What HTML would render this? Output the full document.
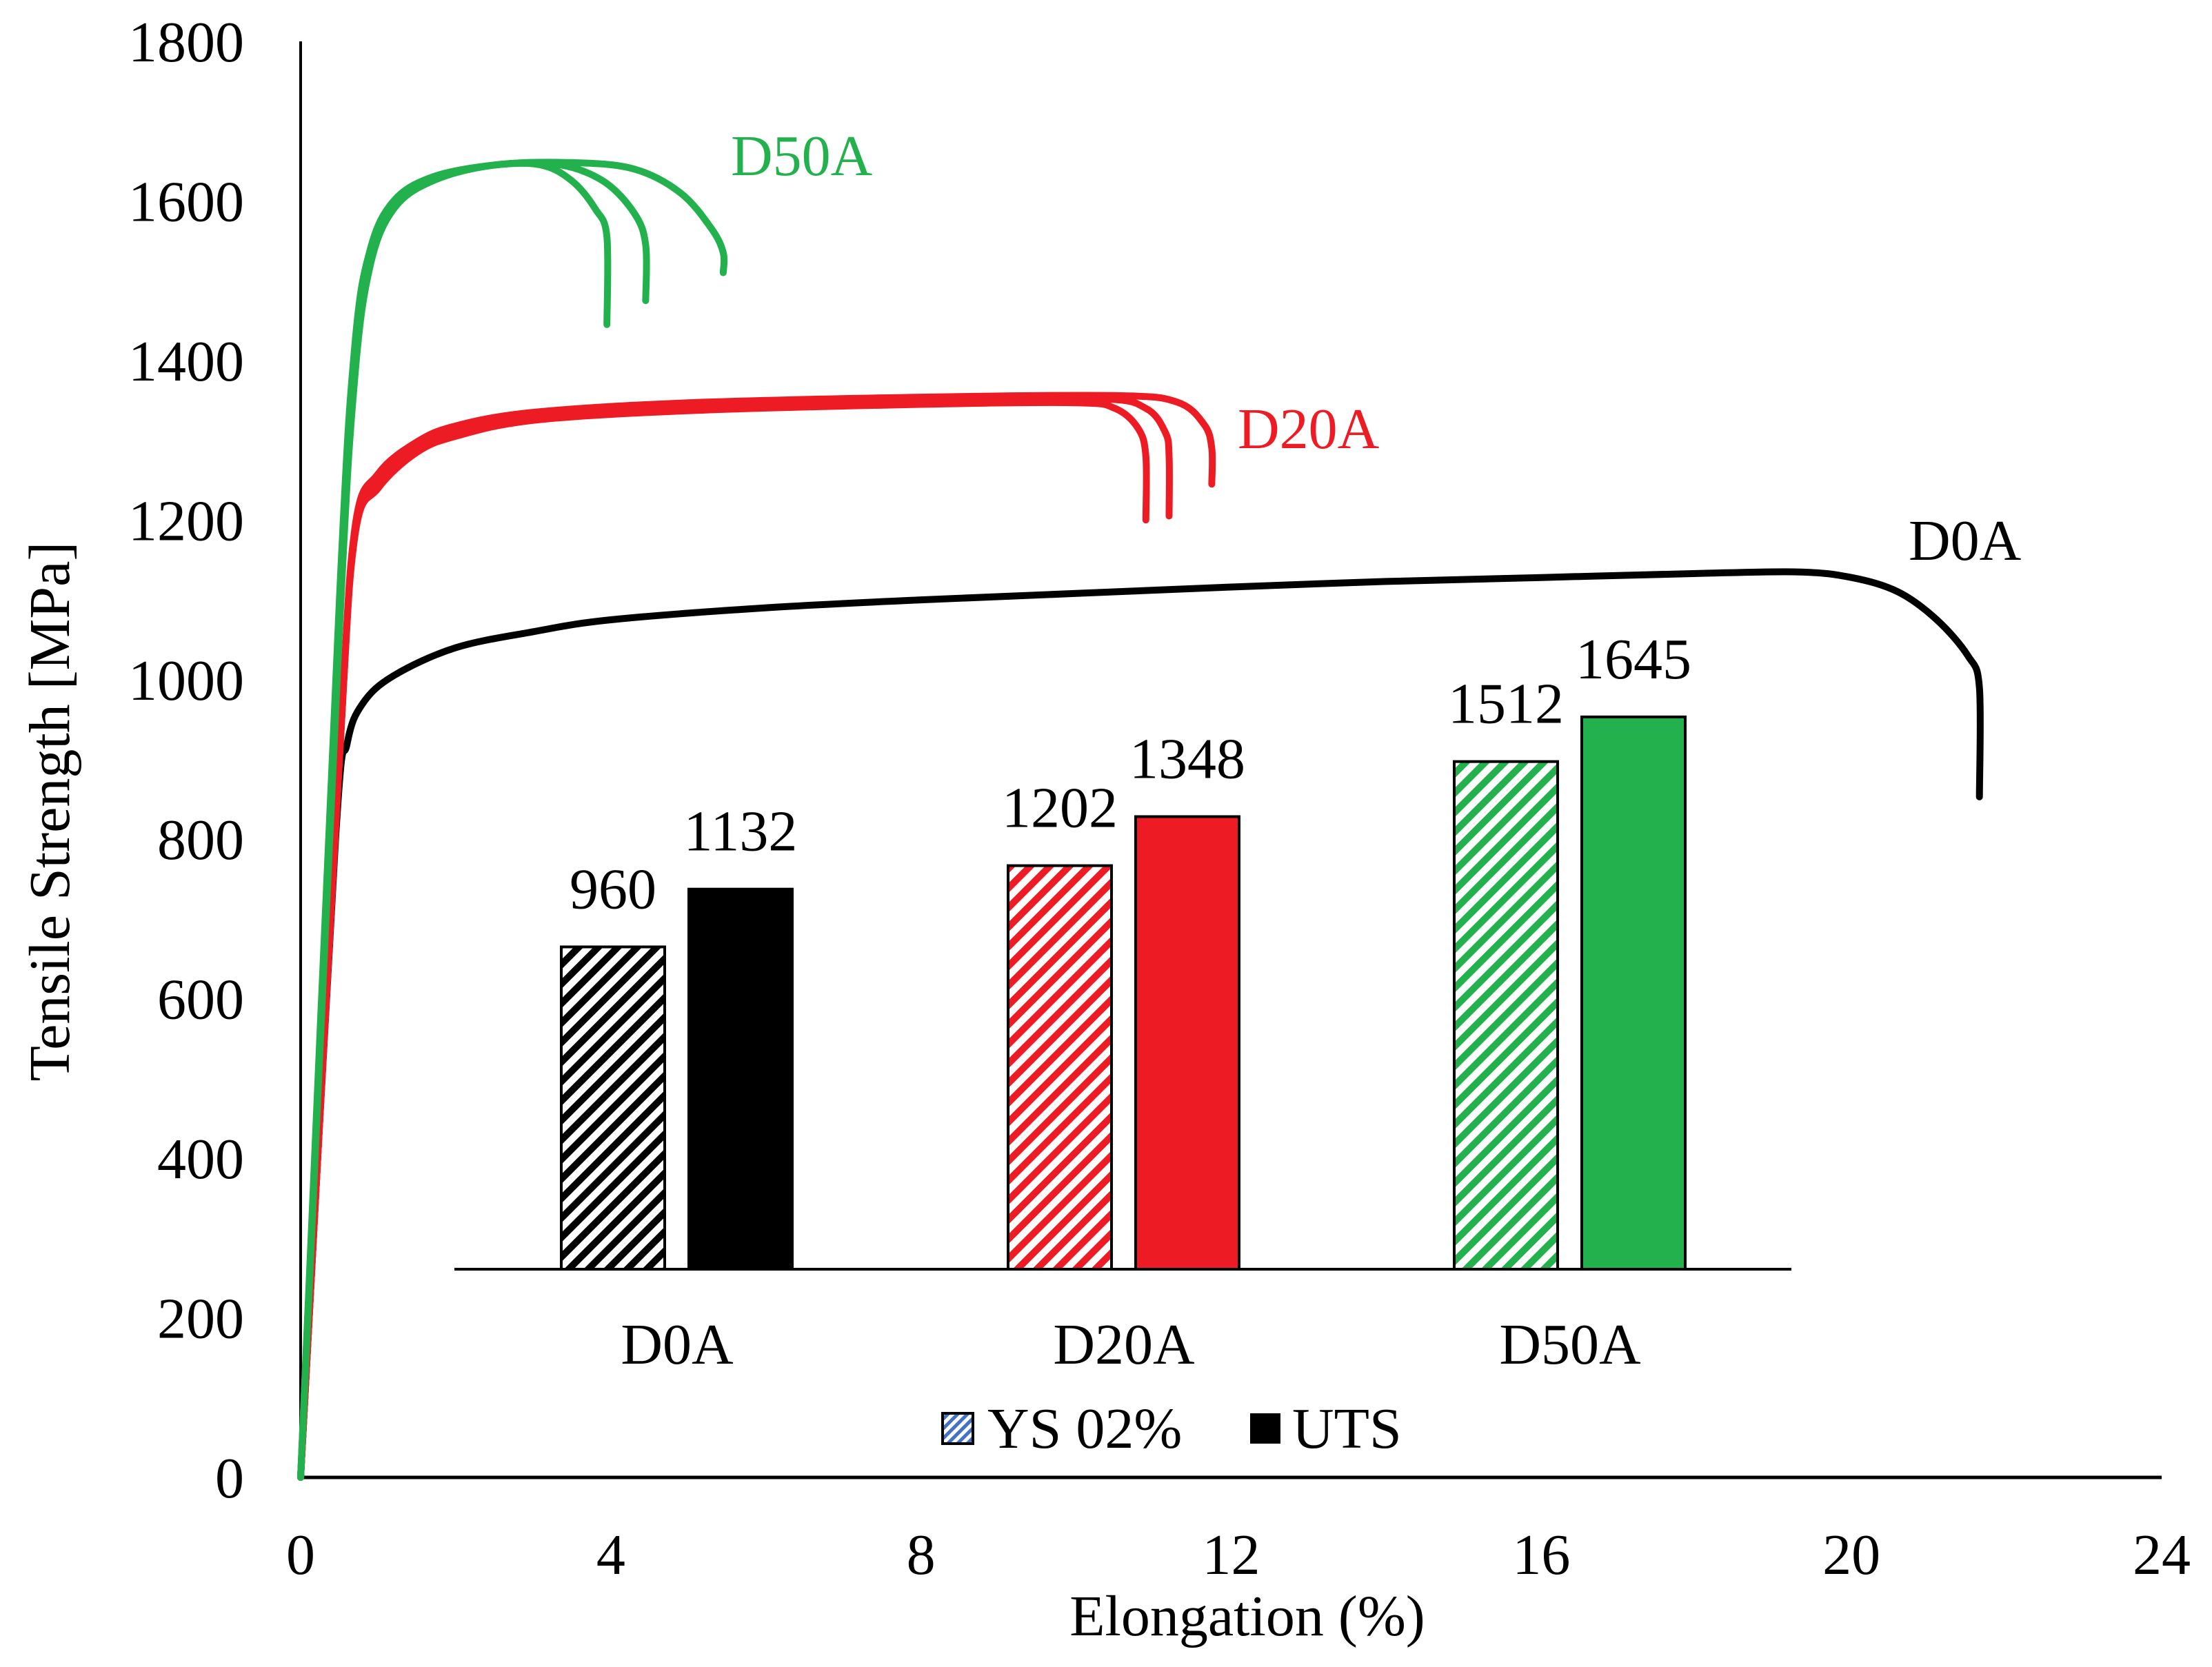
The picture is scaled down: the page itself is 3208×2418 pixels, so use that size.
<!DOCTYPE html>
<html><head><meta charset="utf-8"><style>
html,body{margin:0;padding:0;background:#fff;}
svg{display:block;}
text{font-family:"Liberation Serif",serif;}
</style></head><body>
<svg id="chart" width="3208" height="2418" viewBox="0 0 3208 2418" xmlns="http://www.w3.org/2000/svg">
<defs>
<pattern id="hatchK" patternUnits="userSpaceOnUse" width="20" height="20" patternTransform="rotate(45)"><rect width="20" height="20" fill="#fff"/><rect width="10" height="20" fill="#000"/></pattern>
<pattern id="hatchR" patternUnits="userSpaceOnUse" width="20" height="20" patternTransform="rotate(45)"><rect width="20" height="20" fill="#fff"/><rect width="10" height="20" fill="#ed1c24"/></pattern>
<pattern id="hatchG" patternUnits="userSpaceOnUse" width="20" height="20" patternTransform="rotate(45)"><rect width="20" height="20" fill="#fff"/><rect width="10" height="20" fill="#22b14c"/></pattern>
<pattern id="hatchB" patternUnits="userSpaceOnUse" width="10" height="10" patternTransform="rotate(45)"><rect width="10" height="10" fill="#fff"/><rect width="5" height="10" fill="#4472c4"/></pattern>
</defs>
<g id="plot"></g>
</svg>
<script>
const xTicks = [0,4,8,12,16,20,24];
const yTicks = [0,200,400,600,800,1000,1200,1400,1600,1800];
const d0aCurve = [[0,0],[0.45,800],[0.6,920],[0.8,970],[1.2,1005],[2,1040],[3,1060],[4,1075],[6,1090],[8,1100],[10,1108],[12,1116],[14,1123],[16,1128],[18,1133],[19.3,1135],[20.0,1128],[20.6,1110],[21.1,1075],[21.5,1030],[21.65,990],[21.65,853]];
const d20aCurve1 = [[0,0],[0.5,900],[0.7,1180],[1,1240],[1.5,1285],[2,1305],[3,1325],[5,1337],[8,1345],[10,1347],[10.5,1340],[10.8,1315],[10.9,1280],[10.9,1200]];
const d20aCurve2 = [[0,0],[0.5,900],[0.7,1185],[1,1250],[1.5,1292],[2,1312],[3,1330],[5,1342],[8,1350],[10.3,1352],[10.9,1340],[11.15,1310],[11.2,1280],[11.2,1205]];
const d20aCurve3 = [[0,0],[0.5,900],[0.7,1190],[1,1258],[1.5,1298],[2,1318],[3,1335],[5,1347],[8,1354],[10.5,1356],[11.3,1348],[11.65,1320],[11.75,1290],[11.75,1245]];
const d50aCurve1 = [[0,0],[0.5,1100],[0.7,1420],[0.9,1540],[1.2,1600],[1.7,1630],[2.5,1645],[3.1,1645],[3.5,1625],[3.8,1590],[3.95,1555],[3.95,1445]];
const d50aCurve2 = [[0,0],[0.5,1080],[0.7,1400],[0.9,1530],[1.2,1595],[1.7,1628],[2.5,1645],[3.3,1646],[3.9,1625],[4.3,1585],[4.45,1545],[4.45,1475]];
const d50aCurve3 = [[0,0],[0.5,1060],[0.7,1380],[0.9,1520],[1.2,1590],[1.7,1625],[2.5,1645],[3.5,1648],[4.3,1640],[4.9,1610],[5.3,1565],[5.45,1535],[5.45,1510]];
const barCategories = ["D0A","D20A","D50A"];
const ysValues = [960,1202,1512];
const utsValues = [1132,1348,1645];

const NS="http://www.w3.org/2000/svg";
const g=document.getElementById('plot');
const X0=436,XS=(3135-436)/24,Y0=2143,YS=(2143-60)/1800;
const sx=v=>X0+v*XS, sy=v=>Y0-v*YS;
const BY0=1841,BK=0.487;
const by=v=>BY0-v*BK;
const groupCenters=[982,1630,2277];
function el(t,a,txt){const e=document.createElementNS(NS,t);for(const k in a)e.setAttribute(k,a[k]);if(txt!==undefined)e.textContent=txt;g.appendChild(e);return e;}

let e=el('line',{x1:X0,y1:60,x2:X0,y2:Y0,stroke:'#000','stroke-width':4});


e=el('line',{x1:X0,y1:Y0,x2:3135,y2:Y0,stroke:'#000','stroke-width':5});


yTicks.forEach(v=>{const t=el('text',{x:354,y:sy(v)+29,'text-anchor':'end','font-size':84},String(v));

});
xTicks.forEach(v=>{const t=el('text',{x:sx(v),y:2283,'text-anchor':'middle','font-size':84},String(v));

});
e=el('text',{x:1809,y:2372,'text-anchor':'middle','font-size':84},'Elongation (%)');


e=el('text',{x:0,y:0,'text-anchor':'middle','font-size':84,transform:'translate(100,1177) rotate(-90)'},'Tensile Strength [MPa]');



function path(pts){
 const P=pts.map(p=>[sx(p[0]),sy(p[1])]);
 let d='M'+P[0][0].toFixed(1)+' '+P[0][1].toFixed(1);
 for(let i=0;i<P.length-1;i++){
  const p0=P[Math.max(0,i-1)],p1=P[i],p2=P[i+1],p3=P[Math.min(P.length-1,i+2)];
  const c1=[p1[0]+(p2[0]-p0[0])/6,p1[1]+(p2[1]-p0[1])/6];
  const c2=[p2[0]-(p3[0]-p1[0])/6,p2[1]-(p3[1]-p1[1])/6];
  d+=' C'+c1[0].toFixed(1)+' '+c1[1].toFixed(1)+' '+c2[0].toFixed(1)+' '+c2[1].toFixed(1)+' '+p2[0].toFixed(1)+' '+p2[1].toFixed(1);
 }
 return d;
}
const curves=[[d0aCurve,'#000','d0a-curve'],[d20aCurve1,'#ed1c24','d20a-curve-1'],[d20aCurve2,'#ed1c24','d20a-curve-2'],[d20aCurve3,'#ed1c24','d20a-curve-3'],[d50aCurve1,'#22b14c','d50a-curve-1'],[d50aCurve2,'#22b14c','d50a-curve-2'],[d50aCurve3,'#22b14c','d50a-curve-3']];
curves.forEach(c=>{const p=el('path',{d:path(c[0]),fill:'none',stroke:c[1],'stroke-width':10,'stroke-linejoin':'round','stroke-linecap':'round'});

});
e=el('text',{x:1060,y:254,'font-size':84,fill:'#22b14c'},'D50A');


e=el('text',{x:1795,y:650,'font-size':84,fill:'#ed1c24'},'D20A');


e=el('text',{x:2768,y:812,'font-size':84,fill:'#000'},'D0A');



const colors=['#000','#ed1c24','#22b14c'],hatch=['url(#hatchK)','url(#hatchR)','url(#hatchG)'];
const BW=150;
barCategories.forEach((c,i)=>{
 const cx=groupCenters[i];
 const yx=cx-168, ux=cx+17;
 let r=el('rect',{x:yx,y:by(ysValues[i]),width:BW,height:ysValues[i]*BK,fill:hatch[i],stroke:'#000','stroke-width':4});
 
 
 r=el('rect',{x:ux,y:by(utsValues[i]),width:BW,height:utsValues[i]*BK,fill:colors[i],stroke:'#000','stroke-width':4});
 
 
 let t=el('text',{x:yx+BW/2,y:by(ysValues[i])-56,'text-anchor':'middle','font-size':84},String(ysValues[i]));
 
 
 t=el('text',{x:ux+BW/2,y:by(utsValues[i])-56,'text-anchor':'middle','font-size':84},String(utsValues[i]));
 
 
 t=el('text',{x:cx,y:1978,'text-anchor':'middle','font-size':84},c);
 
 
});
e=el('line',{x1:659,y1:BY0,x2:2598,y2:BY0,stroke:'#000','stroke-width':4});


e=el('rect',{x:1367,y:2050,width:44,height:44,fill:'url(#hatchB)',stroke:'#000','stroke-width':4});


e=el('text',{x:1432,y:2100,'font-size':84},'YS 02%');


e=el('rect',{x:1813,y:2050,width:44,height:44,fill:'#000'});


e=el('text',{x:1874,y:2100,'font-size':84},'UTS');


</script>
</body></html>
